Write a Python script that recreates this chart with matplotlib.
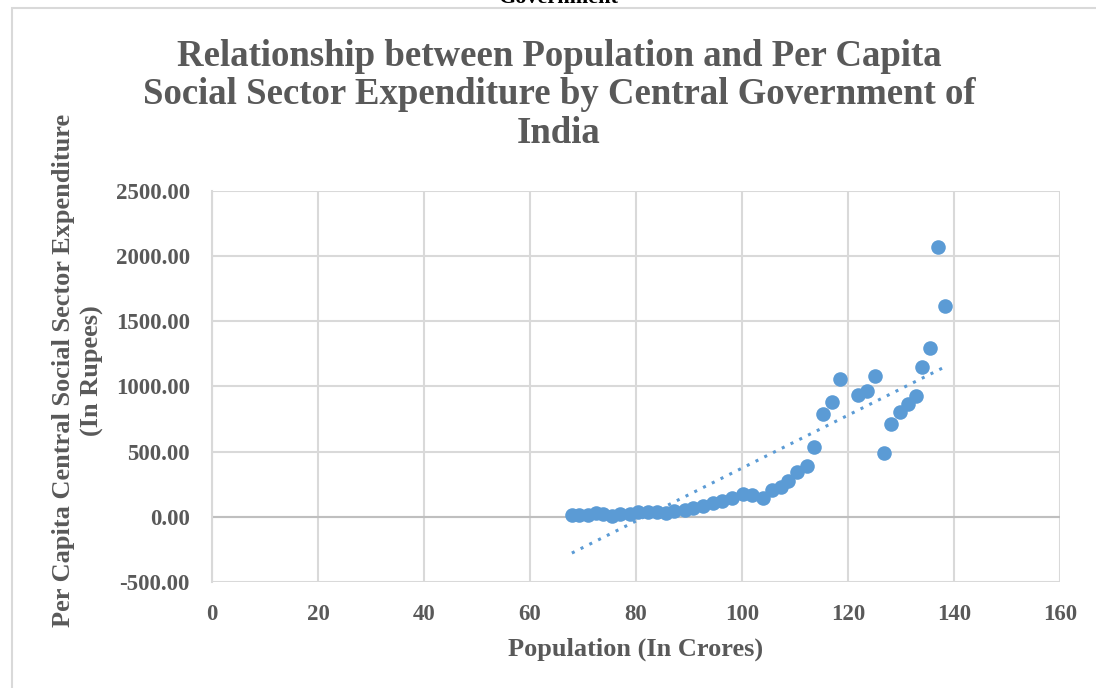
import numpy as np
import matplotlib.pyplot as plt
from matplotlib.patches import Rectangle

# Population (crores) against per capita central social sector expenditure (Rs)
population = [67.9, 69.3, 71.0, 72.5, 73.8, 75.4, 77.0, 78.9, 80.4, 82.2,
              83.9, 85.6, 87.2, 89.2, 90.8, 92.7, 94.6, 96.3, 98.2, 100.1,
              101.9, 104.0, 105.7, 107.3, 108.7, 110.4, 112.2, 113.6, 115.3, 117.0,
              118.5, 121.9, 123.5, 125.0, 126.7, 128.1, 129.8, 131.3, 132.8, 134.0,
              135.5, 136.9, 138.3]
per_capita = [15, 15, 16, 28, 25, 10, 20, 25, 36, 36,
              36, 30, 41, 54, 66, 84, 105, 125, 148, 174,
              169, 143, 207, 228, 271, 343, 391, 534, 787, 882,
              1058, 933, 969, 1079, 488, 713, 808, 864, 930, 1148,
              1294, 2073, 1618]

x_ticks = [0, 20, 40, 60, 80, 100, 120, 140, 160]
y_ticks = [-500, 0, 500, 1000, 1500, 2000, 2500]

blue = '#5B9BD5'
grey = '#595959'
serif = ['Liberation Serif', 'DejaVu Serif']

fig = plt.figure(figsize=(10.96, 6.88), dpi=100)
ax = fig.add_axes([0.1934, 0.1541, 0.7738, 0.5683])

ax.scatter(population, per_capita, s=110, color=blue, zorder=3, linewidths=0)

# linear trendline
slope, intercept = np.polyfit(population, per_capita, 1)
tx = np.array([min(population), max(population)])
ax.plot(tx, slope * tx + intercept, linestyle=(0, (1, 2.2)), color=blue,
        linewidth=2.2, zorder=2)

ax.set_xlim(0, 160)
ax.set_ylim(-500, 2500)
ax.set_xticks(x_ticks)
ax.set_yticks(y_ticks)
ax.set_xticklabels([str(t) for t in x_ticks])
ax.set_yticklabels(['%.2f' % t for t in y_ticks])
ax.grid(True, color='#D9D9D9', linewidth=1.5, zorder=0)
ax.set_axisbelow(True)
for side in ['top', 'right', 'bottom']:
    ax.spines[side].set_visible(False)
ax.spines['left'].set_color('#D9D9D9')
ax.spines['left'].set_linewidth(1.5)
ax.axhline(0, color='#BFBFBF', linewidth=1.5, zorder=1)
ax.tick_params(length=0, pad=16, labelcolor=grey)
ax.tick_params(axis='x', pad=16)
for lbl in ax.get_xticklabels() + ax.get_yticklabels():
    lbl.set_fontfamily(serif)
    lbl.set_fontweight('bold')
    lbl.set_fontsize(16.5)

ax.set_xlabel('Population (In Crores)', fontsize=19, fontweight='bold',
              color=grey, family=serif, labelpad=9)
fig.text(0.0715, 0.462, 'Per Capita Central Social Sector Expenditure\n(In Rupees)',
         rotation=90, ha='center', va='center', fontsize=19, fontweight='bold',
         color=grey, family=serif, linespacing=1.3)

fig.text(0.51, 0.862, 'Relationship between Population and Per Capita\n'
         'Social Sector Expenditure by Central Government of\nIndia',
         ha='center', va='center', fontsize=26.5, fontweight='bold', color=grey,
         family=serif, linespacing=1.12)

# caption from the page above, cut off by the frame
fig.text(0.51, 1.003, 'Government', ha='center', va='center', fontsize=16,
         fontweight='bold', color='black', family=serif)

# chart frame
fig.patches.append(Rectangle((12 / 1096, -0.05), 1.2, 1.05 - 8 / 688,
                             transform=fig.transFigure, fill=False,
                             edgecolor='#D9D9D9', linewidth=1.5))

fig.savefig('out.png', dpi=100)
